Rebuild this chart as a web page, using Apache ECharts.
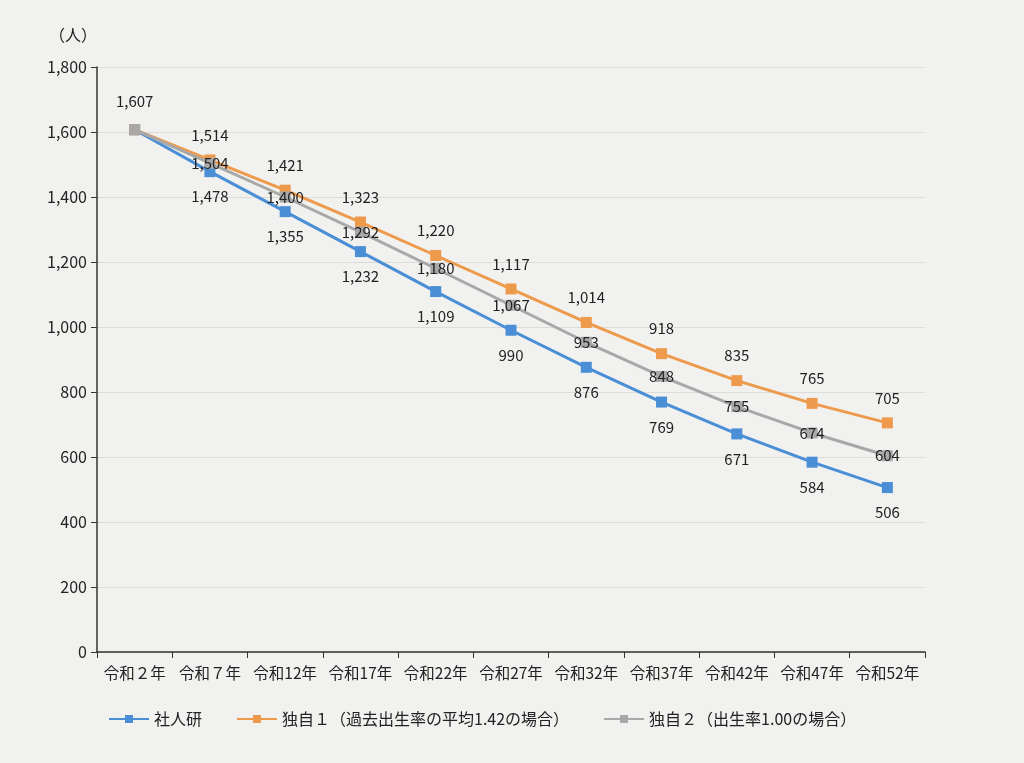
<!DOCTYPE html>
<html>
<head>
<meta charset="utf-8">
<script src="https://cdn.jsdelivr.net/npm/echarts@6/dist/echarts.min.js"></script>
<style>
html, body { margin: 0; padding: 0; background: #f1f1ef; }
#main { width: 1024px; height: 763px; }
</style>
</head>
<body>
<div id="main"></div>
<script>
// 年次
var years = ['令和２年', '令和７年', '令和12年', '令和17年', '令和22年', '令和27年',
	'令和32年', '令和37年', '令和42年', '令和47年', '令和52年'];
// 社人研推計
var shajinken = [1607, 1478, 1355, 1232, 1109, 990, 876, 769, 671, 584, 506];
// 独自1（過去出生率の平均1.42）
var dokuji1 = [1607, 1514, 1421, 1323, 1220, 1117, 1014, 918, 835, 765, 705];
// 独自2（出生率1.00）
var dokuji2 = [1607, 1504, 1400, 1292, 1180, 1067, 953, 848, 755, 674, 604];

var names = ['社人研', '独自１（過去出生率の平均1.42の場合）', '独自２（出生率1.00の場合）'];
var colors = ['#4a8ed6', '#ee9a4c', '#a8a8a8'];

var font = '"Noto Sans CJK JP", "Noto Sans", sans-serif';

function fmt(v) {
	return String(v).replace(/\B(?=(\d{3})+(?!\d))/g, ',');
}

// 系列ごとのラベル位置、先頭は独自2のみ上に表示
function buildData(arr, pos) {
	var out = [];
	for (var i = 0; i < arr.length; i++) {
		var item = {value: arr[i]};
		if (i === 0) {
			item.label = pos === 'inside' ? {show: true, position: 'top', distance: 15} : {show: false};
		}
		out.push(item);
	}
	return out;
}

var myChart = echarts.init(document.getElementById('main'));
var seriesList = [];
var srcs = [shajinken, dokuji1, dokuji2];
var positions = ['bottom', 'top', 'inside'];
for (var s = 0; s < 3; s++) {
	seriesList.push({
		name: names[s],
		type: 'line',
		data: buildData(srcs[s], positions[s]),
		symbol: 'rect',
		symbolSize: 11,
		z: s === 2 ? 3 : 2,
		lineStyle: {width: 3, color: colors[s]},
		itemStyle: {color: colors[s]},
		label: {
			show: true,
			position: positions[s],
			distance: 12,
			color: '#222',
			fontSize: 15,
			fontFamily: font,
			formatter: function (p) { return fmt(p.value); }
		}
	});
}

var option = {
	backgroundColor: '#f1f1ef',
	animation: false,
	textStyle: {fontFamily: font},
	grid: {left: 97, right: 99, top: 67, bottom: 111},
	legend: {
		left: 103,
		top: 706,
		itemGap: 34,
		itemWidth: 40,
		itemHeight: 10,
		textStyle: {color: '#222', fontSize: 16, fontFamily: font},
		data: names
	},
	xAxis: {
		type: 'category',
		data: years,
		boundaryGap: true,
		axisLine: {lineStyle: {color: '#333', width: 1.5}},
		axisTick: {show: true, interval: 0, length: 6, lineStyle: {color: '#333'}},
		axisLabel: {color: '#222', fontSize: 15.5, margin: 13, interval: 0, hideOverlap: false, fontFamily: font}
	},
	yAxis: {
		type: 'value',
		min: 0,
		max: 1800,
		interval: 200,
		name: '（人）',
		nameLocation: 'end',
		nameGap: 24,
		nameTextStyle: {color: '#222', fontSize: 16, align: 'right'},
		axisLine: {show: true, lineStyle: {color: '#333', width: 1.5}},
		axisTick: {show: true, length: 6, lineStyle: {color: '#333'}},
		axisLabel: {
			color: '#222', fontSize: 16, margin: 10, fontFamily: font,
			formatter: function (v) { return fmt(v); }
		},
		splitLine: {lineStyle: {color: '#dcdcda', width: 1}}
	},
	series: seriesList
};
myChart.setOption(option);
</script>
</body>
</html>
